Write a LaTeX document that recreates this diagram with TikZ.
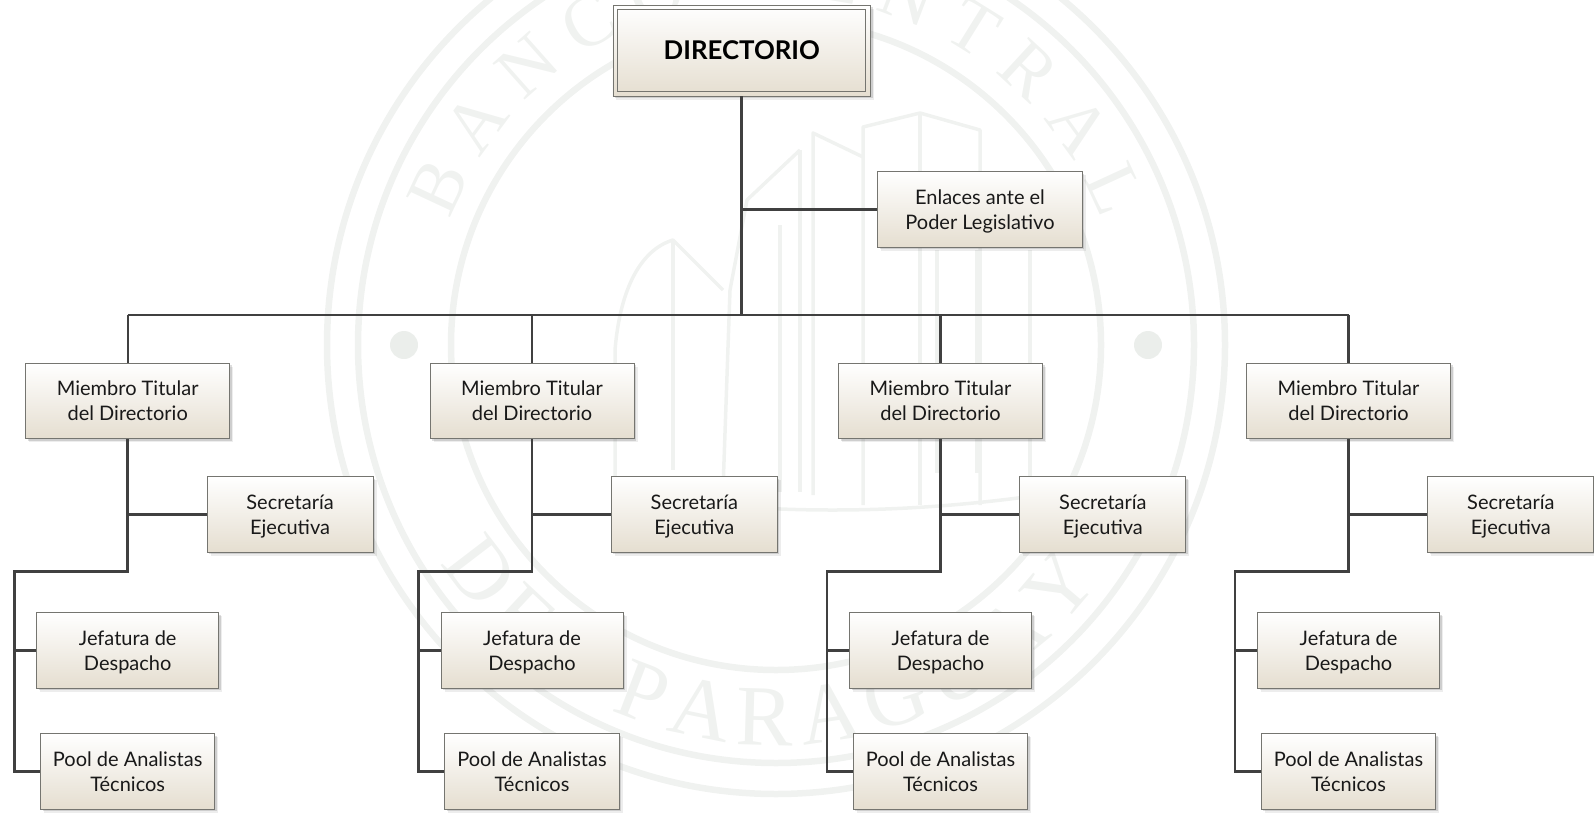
\documentclass[tikz,border=0pt]{standalone}
\usepackage{fontspec}
\setmainfont{Lato}
\newfontfamily\sealfont{Liberation Serif}
\usetikzlibrary{shadows,decorations.text}
\definecolor{seal}{HTML}{F0F2F0}
\definecolor{sealdot}{HTML}{EBEEEB}
\definecolor{wire}{HTML}{404040}
\definecolor{boxline}{HTML}{757570}
\definecolor{boxfoot}{HTML}{E5DED0}
\newcommand{\lntop}{\rule{0pt}{19.4pt}}
\newcommand{\lnbot}{\rule[-5pt]{0pt}{5pt}}
\tikzset{
  x=1pt,y=-1pt,
  orgbox/.style={draw=boxline,line width=0.9pt,inner sep=0pt,top color=white,bottom color=boxfoot,
    align=center,font=\fontsize{20}{25}\selectfont,text=black!90,
    drop shadow={shadow xshift=3.5pt,shadow yshift=-3.5pt,fill=black,opacity=.07},
    drop shadow={shadow xshift=2pt,shadow yshift=-2pt,fill=black,opacity=.13}},
  membox/.style={orgbox,minimum width=204pt,minimum height=75.4pt},
  secbox/.style={orgbox,minimum width=166pt,minimum height=75.4pt},
  jefbox/.style={orgbox,minimum width=182pt,minimum height=75.4pt},
  poolbox/.style={orgbox,minimum width=174.4pt,minimum height=75.4pt},
  thick wire/.style={draw=wire,line width=2.7pt},
  mid wire/.style={draw=wire,line width=2.2pt},
  ring/.style={draw=seal,line width=6.5pt},
  bldg/.style={draw=seal,line width=3.5pt,line join=round},
}
\begin{document}
\begin{tikzpicture}
\useasboundingbox (0,0) rectangle (1594,814);
% faint seal in the background
\begin{scope}
\clip (0,0) rectangle (1594,814);
\begin{scope}[shift={(776,345)},x=1pt,y=1pt]
\draw[ring] (0,0) circle[radius=449pt];
\draw[ring] (0,0) circle[radius=418pt];
\draw[ring] (0,0) circle[radius=325pt];
\fill[sealdot] (-372,0) circle[radius=14pt];
\fill[sealdot] (372,0) circle[radius=14pt];
\path[decorate,decoration={text along path,text align=fit to path,
   text={|\sealfont\fontsize{74}{74}\selectfont\color{seal}|BANCO CENTRAL}}]
   (159:349) arc[start angle=159,end angle=21,radius=349];
\path[decorate,decoration={text along path,text align=fit to path,
   text={|\sealfont\fontsize{86}{86}\selectfont\color{seal}|DEL PARAGUAY}}]
   (-147:400) arc[start angle=-147,end angle=-36,radius=400];
\end{scope}
% building
\draw[bldg] (863,505) -- (863,127) -- (920,113) -- (980,130) -- (980,505);
\draw[bldg] (920,113) -- (920,505);
\draw[bldg] (863,157) -- (813,133) -- (813,495);
\draw[bldg] (800,150) -- (800,492);
\draw[bldg] (800,150) -- (747,200) -- (730,290) -- (723,490);
\draw[bldg] (780,225) -- (780,492);
\draw[bldg] (723,290) -- (673,240) .. controls (640,250) and (620,290) .. (615,350) -- (615,480);
\draw[bldg] (673,240) -- (673,470);
\draw[bldg] (937,250) -- (937,473);
\draw[bldg] (977,250) -- (977,473);
\draw[bldg] (1030,250) -- (1030,480);
\draw[bldg] (640,495) .. controls (760,515) and (900,515) .. (1040,495);
\end{scope}
% boxes
\node[orgbox,minimum width=257.7pt,minimum height=91pt] (dirout) at (741.8,50.5) {};
\node[draw=boxline,line width=0.9pt,inner sep=0pt,minimum width=248pt,minimum height=81.5pt,
      font=\fontsize{25.8}{30}\selectfont\bfseries,text=black] (dir) at (741.8,50.5) {DIRECTORIO};
\node[orgbox,minimum width=204.5pt,minimum height=75.4pt] (enl) at (980,209.4) {\lntop Enlaces ante el\\Poder Legislativo\lnbot};
\foreach \i/\x in {1/127.7,2/532,3/940.5,4/1348.5}{
  \node[membox] (m\i) at (\x,401) {\lntop Miembro Titular\\del Directorio\lnbot};
  \node[secbox] (s\i) at (\x+162.4,514.4) {\lntop Secretaría\\Ejecutiva\lnbot};
  \node[jefbox] (j\i) at (\x,650.5) {\lntop Jefatura de\\Despacho\lnbot};
  \node[poolbox] (p\i) at (\x,771.5) {\lntop Pool de Analistas\\Técnicos\lnbot};
  \coordinate (k\i) at (\x,571.7);
  \coordinate (g\i) at (\x-113.5,571.7);
}
% connectors
\coordinate (bus) at (741.8,315);
\draw[thick wire] (dirout.south) -- (bus);
\draw[mid wire] (741.8,209.4) -- (enl.west);
\draw[mid wire] (m1.north |- bus) -- (m4.north |- bus);
\foreach \i in {1,2,3,4}{
  \draw[mid wire] (m\i.north |- bus) -- (m\i.north);
  \draw[thick wire,line join=miter] (m\i.south) -- (k\i) -- (g\i) -- (g\i |- p\i.west) -- (p\i.west);
  \draw[mid wire] (m\i.south |- s\i.west) -- (s\i.west);
  \draw[mid wire] (g\i |- j\i.west) -- (j\i.west);
}
\end{tikzpicture}
\end{document}
